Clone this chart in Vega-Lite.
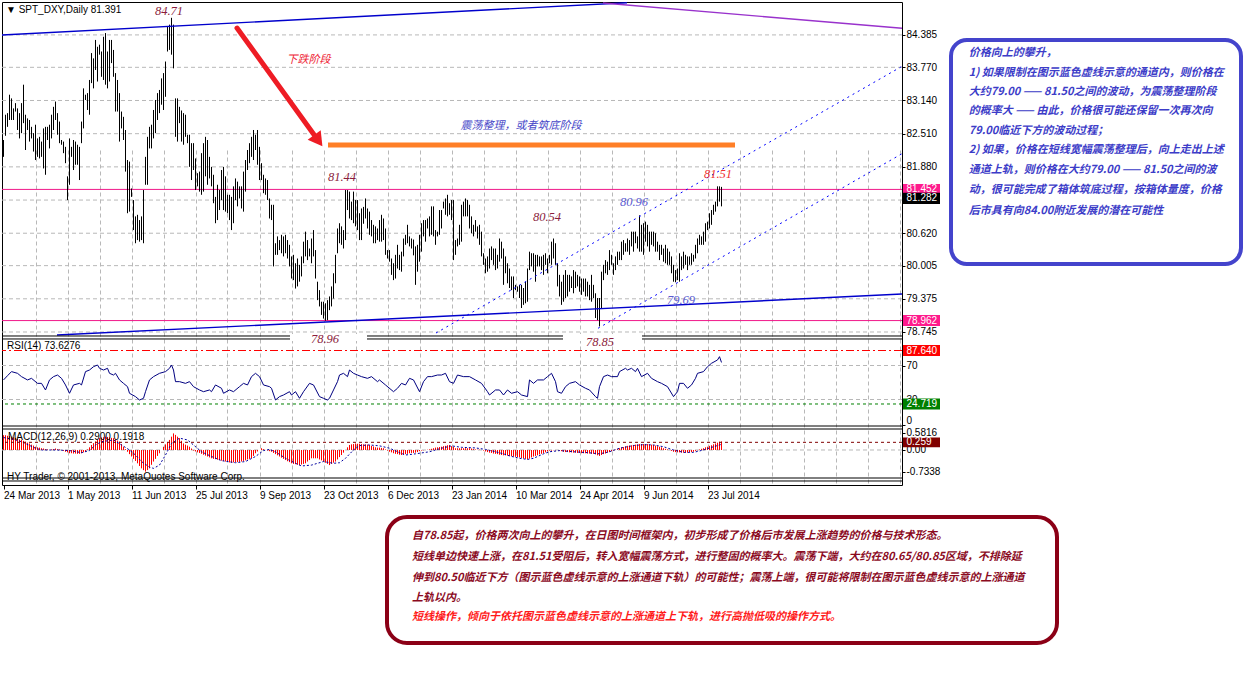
{
"$schema":"https://vega.github.io/schema/vega-lite/v6.json",
"width":900,"height":483,
"autosize":{"type":"none"},
"padding":{"left":2,"top":2,"right":353,"bottom":201},
"background":"#ffffff",
"config":{"view":{"stroke":"#000000","strokeWidth":1},"axis":{"labelFont":"Liberation Sans","labelFontSize":10,"labelColor":"#000000","tickColor":"#000000","title":null,"zindex":0}},
"datasets":{
"bars":[
{"i":0,"h":82.39,"l":82.07,"m":0.5},{"i":1,"h":82.87,"l":82.47,"m":0.5},{"i":2,"h":82.9,"l":82.64,"m":0.48},{"i":3,"h":83.25,"l":82.77,"m":0.47},{"i":4,"h":83.18,"l":82.77,"m":0.45},{"i":5,"h":82.99,"l":82.77,"m":0.43},{"i":6,"h":83.09,"l":82.93,"m":0.41},{"i":7,"h":82.99,"l":82.58,"m":0.38},{"i":8,"h":82.9,"l":82.42,"m":0.36},{"i":9,"h":83.09,"l":82.52,"m":0.34},
{"i":10,"h":83.44,"l":82.71,"m":0.31},{"i":11,"h":82.87,"l":82.2,"m":0.28},{"i":12,"h":82.8,"l":82.58,"m":0.25},{"i":13,"h":82.77,"l":82.36,"m":0.22},{"i":14,"h":82.64,"l":82.42,"m":0.18},{"i":15,"h":82.52,"l":82.17,"m":0.15},{"i":16,"h":82.68,"l":82.01,"m":0.11},{"i":17,"h":82.42,"l":82.07,"m":0.09},{"i":18,"h":82.45,"l":82.04,"m":0.08},{"i":19,"h":82.36,"l":82.07,"m":0.06},
{"i":20,"h":82.61,"l":81.85,"m":0.05},{"i":21,"h":82.64,"l":81.73,"m":0.03},{"i":22,"h":82.64,"l":82.39,"m":0.02},{"i":23,"h":82.68,"l":82.23,"m":0},{"i":24,"h":82.87,"l":82.42,"m":0.02},{"i":25,"h":83.02,"l":82.58,"m":0.03},{"i":26,"h":83.12,"l":82.77,"m":0.05},{"i":27,"h":82.9,"l":82.49,"m":0.03},{"i":28,"h":82.74,"l":82.33,"m":0.02},{"i":29,"h":82.39,"l":82.3,"m":0},
{"i":30,"h":82.36,"l":82.14,"m":-0.03},{"i":31,"h":82.26,"l":81.95,"m":-0.06},{"i":32,"h":81.7,"l":81.25,"m":-0.08},{"i":33,"h":82.42,"l":81.54,"m":-0.11},{"i":34,"h":82.26,"l":82.07,"m":-0.11},{"i":35,"h":82.39,"l":81.82,"m":-0.12},{"i":36,"h":82.36,"l":81.92,"m":-0.12},{"i":37,"h":82.3,"l":81.92,"m":-0.13},{"i":38,"h":82.26,"l":81.63,"m":-0.13},{"i":39,"h":82.74,"l":82.33,"m":-0.11},
{"i":40,"h":83.37,"l":82.61,"m":-0.08},{"i":41,"h":83.25,"l":83.15,"m":-0.06},{"i":42,"h":83.28,"l":82.96,"m":0.02},{"i":43,"h":83.53,"l":82.87,"m":0.09},{"i":44,"h":84.04,"l":83.47,"m":0.17},{"i":45,"h":83.94,"l":83.37,"m":0.23},{"i":46,"h":84.29,"l":83.72,"m":0.29},{"i":47,"h":84.16,"l":83.5,"m":0.34},{"i":48,"h":84.2,"l":84.01,"m":0.4},{"i":49,"h":84.07,"l":83.59,"m":0.42},
{"i":50,"h":84.35,"l":83.53,"m":0.43},{"i":51,"h":84.42,"l":83.44,"m":0.45},{"i":52,"h":84.07,"l":83.37,"m":0.44},{"i":53,"h":84.29,"l":83.5,"m":0.43},{"i":54,"h":84.29,"l":83.85,"m":0.41},{"i":55,"h":84.1,"l":83.59,"m":0.4},{"i":56,"h":83.66,"l":82.93,"m":0.36},{"i":57,"h":83.53,"l":82.93,"m":0.32},{"i":58,"h":83.28,"l":82.36,"m":0.28},{"i":59,"h":82.93,"l":82.61,"m":0.2},
{"i":60,"h":82.83,"l":82.39,"m":0.11},{"i":61,"h":82.58,"l":81.79,"m":0.03},{"i":62,"h":82.01,"l":81.0,"m":-0.06},{"i":63,"h":81.98,"l":81.03,"m":-0.14},{"i":64,"h":81.47,"l":81.31,"m":-0.22},{"i":65,"h":81.25,"l":80.68,"m":-0.3},{"i":66,"h":80.94,"l":80.43,"m":-0.37},{"i":67,"h":80.97,"l":80.49,"m":-0.45},{"i":68,"h":80.87,"l":80.46,"m":-0.54},{"i":69,"h":80.94,"l":80.49,"m":-0.62},
{"i":70,"h":81.44,"l":80.43,"m":-0.68},{"i":71,"h":82.07,"l":81.54,"m":-0.73},{"i":72,"h":82.45,"l":81.54,"m":-0.68},{"i":73,"h":82.64,"l":82.23,"m":-0.62},{"i":74,"h":82.68,"l":82.23,"m":-0.5},{"i":75,"h":82.96,"l":82.42,"m":-0.39},{"i":76,"h":83.15,"l":82.52,"m":-0.3},{"i":77,"h":83.28,"l":82.77,"m":-0.2},{"i":78,"h":83.34,"l":82.9,"m":-0.11},{"i":79,"h":83.56,"l":83.06,"m":0},
{"i":80,"h":83.66,"l":82.96,"m":0.11},{"i":81,"h":83.88,"l":83.21,"m":0.19},{"i":82,"h":84.54,"l":84.07,"m":0.26},{"i":83,"h":84.58,"l":84.1,"m":0.34},{"i":84,"h":84.71,"l":84.01,"m":0.45},{"i":85,"h":84.58,"l":83.75,"m":0.56},{"i":86,"h":83.18,"l":82.45,"m":0.51},{"i":87,"h":83.18,"l":82.36,"m":0.45},{"i":88,"h":83.02,"l":82.71,"m":0.4},{"i":89,"h":82.95,"l":82.36,"m":0.31},
{"i":90,"h":82.9,"l":82.3,"m":0.22},{"i":91,"h":82.87,"l":82.45,"m":0.18},{"i":92,"h":82.49,"l":82.33,"m":0.15},{"i":93,"h":82.49,"l":81.88,"m":0.11},{"i":94,"h":82.33,"l":81.63,"m":0.05},{"i":95,"h":82.33,"l":81.82,"m":-0.02},{"i":96,"h":82.04,"l":81.44,"m":-0.05},{"i":97,"h":81.76,"l":81.51,"m":-0.08},{"i":98,"h":81.79,"l":81.41,"m":-0.1},{"i":99,"h":82.14,"l":81.35,"m":-0.13},
{"i":100,"h":82.33,"l":81.41,"m":-0.16},{"i":101,"h":82.45,"l":81.7,"m":-0.19},{"i":102,"h":82.39,"l":81.54,"m":-0.22},{"i":103,"h":82.07,"l":81.66,"m":-0.25},{"i":104,"h":81.88,"l":81.51,"m":-0.28},{"i":105,"h":81.73,"l":81.19,"m":-0.3},{"i":106,"h":81.31,"l":80.81,"m":-0.31},{"i":107,"h":81.54,"l":80.87,"m":-0.33},{"i":108,"h":81.44,"l":81.06,"m":-0.34},{"i":109,"h":81.82,"l":81.25,"m":-0.36},
{"i":110,"h":81.88,"l":81.06,"m":-0.37},{"i":111,"h":81.7,"l":81.03,"m":-0.39},{"i":112,"h":81.35,"l":81.0,"m":-0.4},{"i":113,"h":81.35,"l":80.87,"m":-0.42},{"i":114,"h":81.31,"l":80.68,"m":-0.43},{"i":115,"h":81.51,"l":80.81,"m":-0.42},{"i":116,"h":81.66,"l":81.25,"m":-0.41},{"i":117,"h":81.6,"l":81.13,"m":-0.41},{"i":118,"h":81.51,"l":81.28,"m":-0.4},{"i":119,"h":81.51,"l":81.09,"m":-0.39},
{"i":120,"h":81.79,"l":81.03,"m":-0.37},{"i":121,"h":82.01,"l":81.41,"m":-0.35},{"i":122,"h":82.2,"l":81.82,"m":-0.32},{"i":123,"h":82.33,"l":81.95,"m":-0.3},{"i":124,"h":82.45,"l":82.07,"m":-0.28},{"i":125,"h":82.58,"l":82.01,"m":-0.2},{"i":126,"h":82.49,"l":82.2,"m":-0.11},{"i":127,"h":82.58,"l":81.92,"m":-0.05},{"i":128,"h":82.26,"l":81.63,"m":0},{"i":129,"h":81.95,"l":81.63,"m":0.06},
{"i":130,"h":81.73,"l":81.38,"m":0.03},{"i":131,"h":81.66,"l":81.35,"m":0},{"i":132,"h":81.63,"l":81.25,"m":-0.02},{"i":133,"h":81.28,"l":80.9,"m":-0.04},{"i":134,"h":81.16,"l":80.87,"m":-0.06},{"i":135,"h":81.16,"l":79.99,"m":-0.1},{"i":136,"h":80.43,"l":80.21,"m":-0.14},{"i":137,"h":80.56,"l":80.21,"m":-0.18},{"i":138,"h":80.49,"l":80.3,"m":-0.22},{"i":139,"h":80.59,"l":80.24,"m":-0.26},
{"i":140,"h":80.56,"l":80.18,"m":-0.3},{"i":141,"h":80.59,"l":80.24,"m":-0.34},{"i":142,"h":80.49,"l":80.14,"m":-0.38},{"i":143,"h":80.4,"l":79.99,"m":-0.41},{"i":144,"h":80.18,"l":79.76,"m":-0.45},{"i":145,"h":80.21,"l":79.73,"m":-0.47},{"i":146,"h":80.05,"l":79.57,"m":-0.48},{"i":147,"h":80.14,"l":79.61,"m":-0.5},{"i":148,"h":80.02,"l":79.7,"m":-0.51},{"i":149,"h":80.18,"l":79.8,"m":-0.49},
{"i":150,"h":80.46,"l":80.05,"m":-0.47},{"i":151,"h":80.65,"l":80.18,"m":-0.45},{"i":152,"h":80.49,"l":80.11,"m":-0.39},{"i":153,"h":80.33,"l":80.18,"m":-0.34},{"i":154,"h":80.52,"l":80.05,"m":-0.28},{"i":155,"h":80.68,"l":80.18,"m":-0.28},{"i":156,"h":80.3,"l":79.76,"m":-0.28},{"i":157,"h":79.7,"l":79.35,"m":-0.28},{"i":158,"h":79.54,"l":79.23,"m":-0.32},{"i":159,"h":79.32,"l":79.07,"m":-0.35},
{"i":160,"h":79.32,"l":79.0,"m":-0.39},{"i":161,"h":79.29,"l":78.96,"m":-0.43},{"i":162,"h":79.35,"l":78.97,"m":-0.47},{"i":163,"h":79.42,"l":79.16,"m":-0.51},{"i":164,"h":79.61,"l":79.23,"m":-0.47},{"i":165,"h":79.86,"l":79.38,"m":-0.43},{"i":166,"h":80.21,"l":79.67,"m":-0.39},{"i":167,"h":80.71,"l":80.24,"m":-0.32},{"i":168,"h":80.81,"l":80.43,"m":-0.24},{"i":169,"h":80.75,"l":80.4,"m":-0.17},
{"i":170,"h":80.68,"l":80.33,"m":-0.09},{"i":171,"h":81.44,"l":80.49,"m":0},{"i":172,"h":81.44,"l":81.06,"m":0.09},{"i":173,"h":81.41,"l":80.9,"m":0.17},{"i":174,"h":81.22,"l":80.87,"m":0.19},{"i":175,"h":81.41,"l":80.81,"m":0.2},{"i":176,"h":81.25,"l":80.75,"m":0.22},{"i":177,"h":81.25,"l":80.68,"m":0.21},{"i":178,"h":81.0,"l":80.49,"m":0.21},{"i":179,"h":81.09,"l":80.49,"m":0.2},
{"i":180,"h":81.12,"l":80.8,"m":0.19},{"i":181,"h":81.28,"l":80.9,"m":0.19},{"i":182,"h":81.09,"l":80.71,"m":0.18},{"i":183,"h":81.03,"l":80.59,"m":0.17},{"i":184,"h":80.87,"l":80.56,"m":0.14},{"i":185,"h":80.78,"l":80.43,"m":0.12},{"i":186,"h":80.75,"l":80.43,"m":0.09},{"i":187,"h":80.71,"l":80.49,"m":0.08},{"i":188,"h":80.87,"l":80.46,"m":0.08},{"i":189,"h":80.97,"l":80.46,"m":0.07},
{"i":190,"h":80.9,"l":80.49,"m":0.06},{"i":191,"h":80.71,"l":80.21,"m":0.02},{"i":192,"h":80.3,"l":80.14,"m":-0.02},{"i":193,"h":80.3,"l":80.08,"m":-0.06},{"i":194,"h":80.14,"l":79.83,"m":-0.08},{"i":195,"h":80.05,"l":79.73,"m":-0.11},{"i":196,"h":80.21,"l":79.76,"m":-0.13},{"i":197,"h":80.4,"l":79.95,"m":-0.14},{"i":198,"h":80.21,"l":79.92,"m":-0.16},{"i":199,"h":80.27,"l":79.89,"m":-0.17},
{"i":200,"h":80.52,"l":80.18,"m":-0.16},{"i":201,"h":80.59,"l":80.4,"m":-0.14},{"i":202,"h":80.78,"l":80.43,"m":-0.13},{"i":203,"h":80.56,"l":80.37,"m":-0.11},{"i":204,"h":80.52,"l":80.33,"m":-0.1},{"i":205,"h":80.5,"l":80.2,"m":-0.1},{"i":206,"h":80.37,"l":79.64,"m":-0.09},{"i":207,"h":80.4,"l":79.89,"m":-0.07},{"i":208,"h":80.59,"l":80.08,"m":-0.04},{"i":209,"h":80.81,"l":80.27,"m":-0.02},
{"i":210,"h":80.87,"l":80.56,"m":-0.01},{"i":211,"h":80.87,"l":80.46,"m":0},{"i":212,"h":80.9,"l":80.71,"m":0.01},{"i":213,"h":80.94,"l":80.56,"m":0.02},{"i":214,"h":81.13,"l":80.59,"m":0.04},{"i":215,"h":81.13,"l":80.56,"m":0.06},{"i":216,"h":80.68,"l":80.4,"m":0.08},{"i":217,"h":80.65,"l":80.56,"m":0.09},{"i":218,"h":81.06,"l":80.59,"m":0.1},{"i":219,"h":81.06,"l":80.71,"m":0.11},
{"i":220,"h":81.22,"l":81.09,"m":0.13},{"i":221,"h":81.28,"l":80.97,"m":0.14},{"i":222,"h":81.35,"l":80.94,"m":0.16},{"i":223,"h":81.19,"l":80.97,"m":0.17},{"i":224,"h":81.25,"l":80.87,"m":0.13},{"i":225,"h":81.25,"l":80.11,"m":0.1},{"i":226,"h":80.49,"l":80.21,"m":0.06},{"i":227,"h":80.52,"l":80.37,"m":0.06},{"i":228,"h":80.78,"l":80.4,"m":0.06},{"i":229,"h":81.16,"l":80.46,"m":0.06},
{"i":230,"h":81.22,"l":80.94,"m":0.06},{"i":231,"h":81.28,"l":80.94,"m":0.06},{"i":232,"h":81.25,"l":80.94,"m":0.06},{"i":233,"h":81.16,"l":80.71,"m":0.06},{"i":234,"h":80.94,"l":80.62,"m":0.05},{"i":235,"h":80.78,"l":80.56,"m":0.03},{"i":236,"h":80.87,"l":80.65,"m":0.02},{"i":237,"h":80.75,"l":80.52,"m":0.01},{"i":238,"h":80.78,"l":80.4,"m":0.01},{"i":239,"h":80.65,"l":80.18,"m":0},
{"i":240,"h":80.24,"l":80.02,"m":-0.02},{"i":241,"h":80.14,"l":79.86,"m":-0.05},{"i":242,"h":80.18,"l":79.89,"m":-0.07},{"i":243,"h":80.33,"l":79.95,"m":-0.09},{"i":244,"h":80.37,"l":80.11,"m":-0.1},{"i":245,"h":80.33,"l":80.02,"m":-0.12},{"i":246,"h":80.33,"l":79.92,"m":-0.13},{"i":247,"h":80.21,"l":79.95,"m":-0.14},{"i":248,"h":80.52,"l":80.08,"m":-0.16},{"i":249,"h":80.46,"l":80.14,"m":-0.17},
{"i":250,"h":80.33,"l":79.64,"m":-0.18},{"i":251,"h":80.18,"l":79.86,"m":-0.18},{"i":252,"h":80.05,"l":79.67,"m":-0.19},{"i":253,"h":79.95,"l":79.58,"m":-0.2},{"i":254,"h":79.8,"l":79.54,"m":-0.21},{"i":255,"h":79.8,"l":79.39,"m":-0.22},{"i":256,"h":79.64,"l":79.54,"m":-0.23},{"i":257,"h":79.61,"l":79.51,"m":-0.24},{"i":258,"h":79.64,"l":79.39,"m":-0.25},{"i":259,"h":79.64,"l":79.2,"m":-0.27},
{"i":260,"h":79.58,"l":79.26,"m":-0.29},{"i":261,"h":79.7,"l":79.29,"m":-0.3},{"i":262,"h":79.95,"l":79.32,"m":-0.32},{"i":263,"h":80.27,"l":79.92,"m":-0.29},{"i":264,"h":80.24,"l":79.99,"m":-0.25},{"i":265,"h":80.24,"l":79.89,"m":-0.22},{"i":266,"h":80.21,"l":79.7,"m":-0.2},{"i":267,"h":80.21,"l":79.99,"m":-0.18},{"i":268,"h":80.18,"l":79.99,"m":-0.15},{"i":269,"h":80.18,"l":79.92,"m":-0.13},
{"i":270,"h":80.21,"l":79.83,"m":-0.11},{"i":271,"h":80.24,"l":80.02,"m":-0.08},{"i":272,"h":80.14,"l":79.86,"m":-0.05},{"i":273,"h":80.21,"l":80.05,"m":-0.02},{"i":274,"h":80.46,"l":80.02,"m":-0.02},{"i":275,"h":80.52,"l":80.14,"m":-0.01},{"i":276,"h":80.43,"l":80.02,"m":-0.01},{"i":277,"h":80.05,"l":79.61,"m":0},{"i":278,"h":79.83,"l":79.42,"m":-0.02},{"i":279,"h":79.7,"l":79.26,"m":-0.04},
{"i":280,"h":79.83,"l":79.32,"m":-0.06},{"i":281,"h":79.92,"l":79.39,"m":-0.07},{"i":282,"h":79.83,"l":79.42,"m":-0.07},{"i":283,"h":79.83,"l":79.51,"m":-0.08},{"i":284,"h":79.8,"l":79.58,"m":-0.08},{"i":285,"h":79.92,"l":79.48,"m":-0.09},{"i":286,"h":79.89,"l":79.58,"m":-0.09},{"i":287,"h":79.83,"l":79.61,"m":-0.1},{"i":288,"h":79.8,"l":79.51,"m":-0.1},{"i":289,"h":79.76,"l":79.45,"m":-0.11},
{"i":290,"h":79.76,"l":79.51,"m":-0.11},{"i":291,"h":79.76,"l":79.42,"m":-0.11},{"i":292,"h":79.7,"l":79.42,"m":-0.12},{"i":293,"h":79.64,"l":79.35,"m":-0.12},{"i":294,"h":79.83,"l":79.32,"m":-0.13},{"i":295,"h":79.64,"l":79.39,"m":-0.13},{"i":296,"h":79.48,"l":79.01,"m":-0.15},{"i":297,"h":79.39,"l":78.97,"m":-0.18},{"i":298,"h":79.39,"l":78.85,"m":-0.2},{"i":299,"h":79.89,"l":79.2,"m":-0.17},
{"i":300,"h":80.02,"l":79.73,"m":-0.14},{"i":301,"h":80.11,"l":79.86,"m":-0.12},{"i":302,"h":80.08,"l":79.83,"m":-0.09},{"i":303,"h":80.3,"l":79.92,"m":-0.07},{"i":304,"h":80.21,"l":80.02,"m":-0.04},{"i":305,"h":80.05,"l":79.83,"m":-0.02},{"i":306,"h":80.18,"l":79.92,"m":0.01},{"i":307,"h":80.27,"l":80.02,"m":0.03},{"i":308,"h":80.27,"l":80.11,"m":0.06},{"i":309,"h":80.46,"l":80.11,"m":0.08},
{"i":310,"h":80.49,"l":80.21,"m":0.1},{"i":311,"h":80.43,"l":80.27,"m":0.12},{"i":312,"h":80.52,"l":80.27,"m":0.14},{"i":313,"h":80.49,"l":80.21,"m":0.15},{"i":314,"h":80.65,"l":80.37,"m":0.16},{"i":315,"h":80.65,"l":80.27,"m":0.17},{"i":316,"h":80.65,"l":80.43,"m":0.18},{"i":317,"h":80.56,"l":80.33,"m":0.19},{"i":318,"h":80.96,"l":80.27,"m":0.2},{"i":319,"h":80.78,"l":80.27,"m":0.2},
{"i":320,"h":80.81,"l":80.21,"m":0.2},{"i":321,"h":80.84,"l":80.46,"m":0.2},{"i":322,"h":80.78,"l":80.37,"m":0.2},{"i":323,"h":80.65,"l":80.27,"m":0.19},{"i":324,"h":80.65,"l":80.4,"m":0.18},{"i":325,"h":80.65,"l":80.37,"m":0.17},{"i":326,"h":80.62,"l":80.27,"m":0.15},{"i":327,"h":80.46,"l":80.27,"m":0.13},{"i":328,"h":80.4,"l":80.11,"m":0.11},{"i":329,"h":80.4,"l":80.21,"m":0.09},
{"i":330,"h":80.33,"l":80.08,"m":0.06},{"i":331,"h":80.4,"l":80.05,"m":0.04},{"i":332,"h":80.33,"l":80.02,"m":0.02},{"i":333,"h":80.27,"l":80.02,"m":0},{"i":334,"h":80.18,"l":79.86,"m":-0.03},{"i":335,"h":80.02,"l":79.7,"m":-0.06},{"i":336,"h":79.92,"l":79.69,"m":-0.07},{"i":337,"h":79.95,"l":79.73,"m":-0.08},{"i":338,"h":80.24,"l":79.7,"m":-0.08},{"i":339,"h":80.18,"l":79.92,"m":-0.09},
{"i":340,"h":80.27,"l":79.95,"m":-0.09},{"i":341,"h":80.21,"l":80.02,"m":-0.09},{"i":342,"h":80.18,"l":79.92,"m":-0.09},{"i":343,"h":80.18,"l":80.02,"m":-0.08},{"i":344,"h":80.24,"l":80.02,"m":-0.07},{"i":345,"h":80.21,"l":80.08,"m":-0.06},{"i":346,"h":80.4,"l":80.14,"m":-0.03},{"i":347,"h":80.52,"l":80.24,"m":-0.01},{"i":348,"h":80.59,"l":80.4,"m":0.02},{"i":349,"h":80.56,"l":80.4,"m":0.04},
{"i":350,"h":80.65,"l":80.4,"m":0.06},{"i":351,"h":80.81,"l":80.46,"m":0.09},{"i":352,"h":80.84,"l":80.68,"m":0.11},{"i":353,"h":81.0,"l":80.71,"m":0.14},{"i":354,"h":81.06,"l":80.78,"m":0.16},{"i":355,"h":81.16,"l":80.97,"m":0.19},{"i":356,"h":81.22,"l":81.03,"m":0.22},{"i":357,"h":81.51,"l":81.13,"m":0.25},{"i":358,"h":81.51,"l":81.22,"m":0.28},{"i":359,"h":81.5,"l":81.13,"m":0.29}
],
"rsi":[
{"i":0,"r":53},{"i":2,"r":58},{"i":4,"r":62.8},{"i":7,"r":60.8},{"i":9,"r":56.9},{"i":12,"r":53},{"i":14,"r":54.9},{"i":17,"r":49},{"i":19,"r":49},{"i":21,"r":41.2},{"i":23,"r":53},{"i":25,"r":56.9},{"i":27,"r":58.8},{"i":29,"r":54.9},{"i":31,"r":47.1},{"i":33,"r":37.3},{"i":35,"r":47.1},{"i":38,"r":49},{"i":39,"r":47.1},{"i":41,"r":62.8},{"i":43,"r":64.7},{"i":45,"r":68.6},{"i":47,"r":70.6},{"i":48,"r":66.7},{"i":50,"r":64.7},{"i":52,"r":66.7},{"i":53,"r":60.8},{"i":55,"r":58.8},{"i":56,"r":60.8},{"i":58,"r":53},{"i":60,"r":49},{"i":62,"r":45.1},{"i":63,"r":37.3},{"i":66,"r":33.4},{"i":68,"r":29.4},{"i":70,"r":31.4},{"i":71,"r":39.2},{"i":73,"r":53},{"i":75,"r":56.9},{"i":78,"r":60.8},{"i":81,"r":62.8},{"i":83,"r":66.7},{"i":84,"r":70.6},{"i":85,"r":64.7},{"i":86,"r":51},{"i":88,"r":51},{"i":91,"r":49},{"i":93,"r":51},{"i":95,"r":45.1},{"i":98,"r":41.2},{"i":100,"r":39.2},{"i":103,"r":41.2},{"i":104,"r":39.2},{"i":106,"r":47.1},{"i":109,"r":43.2},{"i":110,"r":37.3},{"i":113,"r":41.2},{"i":115,"r":39.2},{"i":118,"r":45.1},{"i":120,"r":49},{"i":122,"r":47.1},{"i":124,"r":56.9},{"i":126,"r":60.8},{"i":128,"r":56.9},{"i":130,"r":47.1},{"i":133,"r":45.1},{"i":134,"r":43.2},{"i":136,"r":29.4},{"i":138,"r":33.4},{"i":140,"r":35.3},{"i":143,"r":39.2},{"i":144,"r":35.3},{"i":146,"r":39.2},{"i":148,"r":31.4},{"i":150,"r":39.2},{"i":153,"r":49},{"i":155,"r":47.1},{"i":158,"r":33.4},{"i":160,"r":31.4},{"i":162,"r":29.4},{"i":163,"r":31.4},{"i":165,"r":41.2},{"i":167,"r":51},{"i":168,"r":58.8},{"i":170,"r":60.8},{"i":172,"r":56.9},{"i":173,"r":64.7},{"i":175,"r":60.8},{"i":177,"r":58.8},{"i":179,"r":56.9},{"i":182,"r":54.9},{"i":184,"r":56.9},{"i":187,"r":51},{"i":188,"r":53},{"i":191,"r":47.1},{"i":195,"r":39.2},{"i":197,"r":43.2},{"i":199,"r":49},{"i":201,"r":47.1},{"i":203,"r":54.9},{"i":205,"r":53},{"i":208,"r":39.2},{"i":210,"r":51},{"i":212,"r":56.9},{"i":214,"r":56.9},{"i":217,"r":58.8},{"i":219,"r":58.8},{"i":221,"r":60.8},{"i":223,"r":51},{"i":225,"r":49},{"i":227,"r":58.8},{"i":230,"r":56.9},{"i":233,"r":56.9},{"i":236,"r":53},{"i":239,"r":49},{"i":242,"r":39.2},{"i":243,"r":35.3},{"i":246,"r":41.2},{"i":248,"r":41.2},{"i":250,"r":35.3},{"i":252,"r":41.2},{"i":254,"r":37.3},{"i":257,"r":39.2},{"i":259,"r":35.3},{"i":262,"r":33.4},{"i":263,"r":53},{"i":265,"r":49},{"i":267,"r":53},{"i":270,"r":53},{"i":272,"r":56.9},{"i":274,"r":60.8},{"i":276,"r":51},{"i":277,"r":39.2},{"i":279,"r":37.3},{"i":281,"r":45.1},{"i":283,"r":49},{"i":286,"r":51},{"i":288,"r":47.1},{"i":291,"r":43.2},{"i":293,"r":41.2},{"i":296,"r":33.4},{"i":297,"r":31.4},{"i":298,"r":45.1},{"i":300,"r":56.9},{"i":302,"r":58.8},{"i":304,"r":56.9},{"i":307,"r":56.9},{"i":308,"r":62.8},{"i":311,"r":66.7},{"i":312,"r":64.7},{"i":314,"r":66.7},{"i":316,"r":62.8},{"i":317,"r":66.7},{"i":319,"r":56.9},{"i":322,"r":60.8},{"i":324,"r":54.9},{"i":327,"r":51},{"i":329,"r":49},{"i":332,"r":45.1},{"i":333,"r":41.2},{"i":335,"r":33.4},{"i":337,"r":39.2},{"i":338,"r":49},{"i":340,"r":49},{"i":342,"r":43.2},{"i":344,"r":47.1},{"i":346,"r":54.9},{"i":347,"r":60.8},{"i":350,"r":62.8},{"i":352,"r":68.6},{"i":354,"r":72.6},{"i":357,"r":76.5},{"i":358,"r":80.4},{"i":359,"r":73.6}
],
"sig":[
{"i":0,"s":0.42},{"i":5,"s":0.36},{"i":9,"s":0.28},{"i":16,"s":0.06},{"i":19,"s":0.0},{"i":26,"s":0.0},{"i":33,"s":-0.02},{"i":39,"s":-0.09},{"i":43,"s":-0.02},{"i":46,"s":0.17},{"i":49,"s":0.28},{"i":55,"s":0.34},{"i":59,"s":0.17},{"i":63,"s":0.0},{"i":66,"s":-0.17},{"i":69,"s":-0.39},{"i":73,"s":-0.58},{"i":75,"s":-0.62},{"i":78,"s":-0.51},{"i":81,"s":-0.17},{"i":84,"s":0.22},{"i":88,"s":0.4},{"i":92,"s":0.34},{"i":95,"s":0.17},{"i":99,"s":-0.06},{"i":104,"s":-0.22},{"i":109,"s":-0.36},{"i":116,"s":-0.43},{"i":121,"s":-0.39},{"i":126,"s":-0.22},{"i":130,"s":-0.02},{"i":133,"s":0.02},{"i":136,"s":-0.06},{"i":141,"s":-0.28},{"i":146,"s":-0.45},{"i":149,"s":-0.54},{"i":154,"s":-0.51},{"i":160,"s":-0.39},{"i":165,"s":-0.45},{"i":168,"s":-0.43},{"i":171,"s":-0.28},{"i":175,"s":0.0},{"i":178,"s":0.15},{"i":183,"s":0.17},{"i":188,"s":0.14},{"i":193,"s":0.06},{"i":198,"s":-0.09},{"i":201,"s":-0.17},{"i":206,"s":-0.13},{"i":213,"s":-0.06},{"i":219,"s":0.06},{"i":224,"s":0.14},{"i":229,"s":0.09},{"i":236,"s":0.07},{"i":241,"s":0.02},{"i":246,"s":-0.06},{"i":250,"s":-0.13},{"i":253,"s":-0.2},{"i":258,"s":-0.28},{"i":262,"s":-0.32},{"i":265,"s":-0.28},{"i":270,"s":-0.13},{"i":273,"s":-0.06},{"i":278,"s":-0.02},{"i":285,"s":-0.06},{"i":292,"s":-0.09},{"i":298,"s":-0.13},{"i":303,"s":-0.06},{"i":308,"s":0.06},{"i":315,"s":0.15},{"i":320,"s":0.18},{"i":325,"s":0.17},{"i":330,"s":0.11},{"i":335,"s":0.0},{"i":340,"s":-0.08},{"i":345,"s":-0.08},{"i":350,"s":0.0},{"i":355,"s":0.11},{"i":359,"s":0.19}
]
},
"resolve":{"scale":{"y":"independent"},"axis":{"x":"independent","y":"independent"}},
"layer":[
{"data":{"values":[{"g":84.385},{"g":83.77},{"g":83.14},{"g":82.51},{"g":81.88},{"g":81.25},{"g":80.62},{"g":80.005},{"g":79.375},{"g":78.745}]},
 "mark":{"type":"rule","color":"#b8b8b8","strokeDash":[4,3],"strokeWidth":1},
 "encoding":{"y":{"field":"g","type":"quantitative","scale":{"domain":[78.65,85.01],"range":[335,0],"nice":false,"zero":false},"axis":null}}},
{"data":{"values":[{"g":70},{"g":30}]},
 "mark":{"type":"rule","color":"#b8b8b8","strokeDash":[4,3],"strokeWidth":1},
 "encoding":{"y":{"field":"g","type":"quantitative","scale":{"domain":[0,100],"range":[423,338],"nice":false,"zero":false},"axis":null}}},
{"data":{"values":[{"g":0}]},
 "mark":{"type":"rule","color":"#b8b8b8","strokeDash":[4,3],"strokeWidth":1},
 "encoding":{"y":{"field":"g","type":"quantitative","scale":{"domain":[-0.946,0.709],"range":[476,427],"nice":false,"zero":false},"axis":null}}},
{"data":{"values":[{"g":81.452},{"g":78.962}]},
 "mark":{"type":"rule","color":"#f0198a","strokeWidth":1},
 "encoding":{"y":{"field":"g","type":"quantitative","scale":{"domain":[78.65,85.01],"range":[335,0],"nice":false,"zero":false},"axis":null}}},
{"data":{"name":"bars"},
 "mark":{"type":"rule","color":"#000000","strokeWidth":1},
 "encoding":{
  "x":{"field":"i","type":"quantitative","scale":{"domain":[-0.75,449.25],"range":[0,900],"nice":false,"zero":false},
   "axis":{"orient":"bottom","values":[16,32,48,64,80,96,112,128,144,160,176,192,208,224,240,256,272,288,304,320,336,352,368,384,400,416,432,448],"grid":true,"gridColor":"#b8b8b8","gridDash":[4,3],"labels":false,"ticks":false,"domain":false}},
  "y":{"field":"h","type":"quantitative","scale":{"domain":[78.65,85.01],"range":[335,0],"nice":false,"zero":false},
   "axis":{"orient":"right","values":[84.385,83.77,83.14,82.51,81.88,80.62,80.005,79.375,78.745],"format":".3f","grid":false,"domain":false,"tickSize":3,"labelPadding":1,"labelOverlap":false,"labelFlush":false}},
  "y2":{"field":"l"}}},
{"data":{"values":[{"k":"u","i":-0.75,"p":84.383},{"k":"u","i":311.75,"p":84.997},{"k":"w","i":26.75,"p":78.688},{"k":"w","i":449.25,"p":79.466}]},
 "mark":{"type":"line","color":"#0000cc","strokeWidth":1.4},
 "encoding":{"x":{"field":"i","type":"quantitative","scale":{"domain":[-0.75,449.25],"range":[0,900],"nice":false,"zero":false},"axis":null},
  "y":{"field":"p","type":"quantitative","scale":{"domain":[78.65,85.01],"range":[335,0],"nice":false,"zero":false},"axis":null},"detail":{"field":"k"}}},
{"data":{"values":[{"i":299.75,"p":84.99},{"i":449.25,"p":84.511}]},
 "mark":{"type":"line","color":"#9932cc","strokeWidth":1.4},
 "encoding":{"x":{"field":"i","type":"quantitative","scale":{"domain":[-0.75,449.25],"range":[0,900],"nice":false,"zero":false},"axis":null},
  "y":{"field":"p","type":"quantitative","scale":{"domain":[78.65,85.01],"range":[335,0],"nice":false,"zero":false},"axis":null}}},
{"data":{"values":[{"k":"a","i":216.25,"p":78.726},{"k":"a","i":449.25,"p":83.789},{"k":"b","i":297.25,"p":78.815},{"k":"b","i":449.25,"p":82.13}]},
 "mark":{"type":"line","color":"#0000ff","strokeWidth":1,"strokeDash":[2,4]},
 "encoding":{"x":{"field":"i","type":"quantitative","scale":{"domain":[-0.75,449.25],"range":[0,900],"nice":false,"zero":false},"axis":null},
  "y":{"field":"p","type":"quantitative","scale":{"domain":[78.65,85.01],"range":[335,0],"nice":false,"zero":false},"axis":null},"detail":{"field":"k"}}},
{"data":{"values":[{"g":87.64}]},
 "mark":{"type":"rule","color":"#ff0000","strokeWidth":1,"strokeDash":[8,3,2,3]},
 "encoding":{"y":{"field":"g","type":"quantitative","scale":{"domain":[0,100],"range":[423,338],"nice":false,"zero":false},"axis":null}}},
{"data":{"values":[{"g":24.719}]},
 "mark":{"type":"rule","color":"#008000","strokeWidth":1,"strokeDash":[3,3]},
 "encoding":{"y":{"field":"g","type":"quantitative","scale":{"domain":[0,100],"range":[423,338],"nice":false,"zero":false},"axis":null}}},
{"data":{"name":"rsi"},
 "mark":{"type":"line","color":"#000080","strokeWidth":1},
 "encoding":{
  "x":{"field":"i","type":"quantitative","scale":{"domain":[-0.75,449.25],"range":[0,900],"nice":false,"zero":false},
   "axis":{"orient":"bottom","values":[0,32,64,96,128,160,192,224,256,288,320,352],"labelExpr":"['24 Mar 2013','1 May 2013','11 Jun 2013','25 Jul 2013','9 Sep 2013','23 Oct 2013','6 Dec 2013','23 Jan 2014','10 Mar 2014','24 Apr 2014','9 Jun 2014','23 Jul 2014'][round(datum.value/32)]","labelAlign":"left","labelBaseline":"top","tickSize":4,"labelPadding":1,"grid":false,"domain":false,"labelOverlap":false,"labelFlush":false}},
  "y":{"field":"r","type":"quantitative","scale":{"domain":[0,100],"range":[423,338],"nice":false,"zero":false},
   "axis":{"orient":"right","values":[70,30,0],"grid":false,"domain":false,"tickSize":3,"labelPadding":1,"labelOverlap":false,"labelFlush":false,"labelBaseline":{"condition":{"test":"datum.value == 0","value":"bottom"},"value":"middle"}}}}},
{"data":{"name":"bars"},
 "mark":{"type":"rule","color":"#ff0000","strokeWidth":1},
 "encoding":{
  "x":{"field":"i","type":"quantitative","scale":{"domain":[-0.75,449.25],"range":[0,900],"nice":false,"zero":false},"axis":null},
  "y":{"field":"m","type":"quantitative","scale":{"domain":[-0.946,0.709],"range":[476,427],"nice":false,"zero":false},
   "axis":{"orient":"right","values":[0.5816,0,-0.7338],"labelExpr":"datum.value == 0 ? '0.00' : (datum.value < 0 ? '-' : '') + format(abs(datum.value), '.4f')","grid":false,"domain":false,"tickSize":3,"labelPadding":1,"labelOverlap":false,"labelFlush":false}},
  "y2":{"datum":0}}},
{"data":{"name":"sig"},
 "mark":{"type":"line","color":"#0000a0","strokeWidth":1,"strokeDash":[2,2]},
 "encoding":{"x":{"field":"i","type":"quantitative","scale":{"domain":[-0.75,449.25],"range":[0,900],"nice":false,"zero":false},"axis":null},
  "y":{"field":"s","type":"quantitative","scale":{"domain":[-0.946,0.709],"range":[476,427],"nice":false,"zero":false},"axis":null}}},
{"data":{"values":[{"g":0.259}]},
 "mark":{"type":"rule","color":"#800000","strokeWidth":1,"strokeDash":[3,3]},
 "encoding":{"y":{"field":"g","type":"quantitative","scale":{"domain":[-0.946,0.709],"range":[476,427],"nice":false,"zero":false},"axis":null}}},
{"data":{"values":[{"g":78.669}]},
 "mark":{"type":"rule","color":"#000000","strokeWidth":1},
 "encoding":{"y":{"field":"g","type":"quantitative","scale":{"domain":[78.65,85.01],"range":[335,0],"nice":false,"zero":false},"axis":null}}},
{"data":{"values":[{"g":101.2},{"g":-1.18}]},
 "mark":{"type":"rule","color":"#000000","strokeWidth":1},
 "encoding":{"y":{"field":"g","type":"quantitative","scale":{"domain":[0,100],"range":[423,338],"nice":false,"zero":false},"axis":null}}},
{"data":{"values":[{"g":0.709},{"g":-0.946},{"g":-1.047}]},
 "mark":{"type":"rule","color":"#000000","strokeWidth":1},
 "encoding":{"y":{"field":"g","type":"quantitative","scale":{"domain":[-0.946,0.709],"range":[476,427],"nice":false,"zero":false},"axis":null}}},
{"data":{"values":[{"i":143.25,"i2":181.75,"p":78.707,"p2":78.574},{"i":279.75,"i2":319.25,"p":78.707,"p2":78.574}]},
 "mark":{"type":"rect","color":"#ffffff"},
 "encoding":{"x":{"field":"i","type":"quantitative","scale":{"domain":[-0.75,449.25],"range":[0,900],"nice":false,"zero":false},"axis":null},"x2":{"field":"i2"},
  "y":{"field":"p","type":"quantitative","scale":{"domain":[78.65,85.01],"range":[335,0],"nice":false,"zero":false},"axis":null},"y2":{"field":"p2"}}},
{"data":{"values":[{"i":82.75,"p":84.839,"t":"84.71"},{"i":169.25,"p":81.687,"t":"81.44"},{"i":160.75,"p":78.612,"t":"78.96"},{"i":271.75,"p":80.928,"t":"80.54"},{"i":298.25,"p":78.555,"t":"78.85"}]},
 "mark":{"type":"text","font":"Liberation Serif","fontStyle":"italic","fontSize":12.5,"color":"#8b1c3c","align":"center","baseline":"middle"},
 "encoding":{"x":{"field":"i","type":"quantitative","scale":{"domain":[-0.75,449.25],"range":[0,900],"nice":false,"zero":false},"axis":null},
  "y":{"field":"p","type":"quantitative","scale":{"domain":[78.65,85.01],"range":[335,0],"nice":false,"zero":false},"axis":null},"text":{"field":"t"}}},
{"data":{"values":[{"i":315.25,"p":81.213,"t":"80.96"},{"i":338.75,"p":79.352,"t":"79.69"}]},
 "mark":{"type":"text","font":"Liberation Serif","fontStyle":"italic","fontSize":12.5,"color":"#5a5ad0","align":"center","baseline":"middle"},
 "encoding":{"x":{"field":"i","type":"quantitative","scale":{"domain":[-0.75,449.25],"range":[0,900],"nice":false,"zero":false},"axis":null},
  "y":{"field":"p","type":"quantitative","scale":{"domain":[78.65,85.01],"range":[335,0],"nice":false,"zero":false},"axis":null},"text":{"field":"t"}}},
{"data":{"values":[{"i":357.25,"p":81.744,"t":"81.51"}]},
 "mark":{"type":"text","font":"Liberation Serif","fontStyle":"italic","fontSize":12.5,"color":"#f03030","align":"center","baseline":"middle"},
 "encoding":{"x":{"field":"i","type":"quantitative","scale":{"domain":[-0.75,449.25],"range":[0,900],"nice":false,"zero":false},"axis":null},
  "y":{"field":"p","type":"quantitative","scale":{"domain":[78.65,85.01],"range":[335,0],"nice":false,"zero":false},"axis":null},"text":{"field":"t"}}},
{"data":{"values":[{"i":152.5,"p":83.909,"t":"下跌阶段"}]},
 "mark":{"type":"text","font":"Noto Sans CJK SC","fontStyle":"italic","fontSize":11,"color":"#ee2233","align":"center","baseline":"middle"},
 "encoding":{"x":{"field":"i","type":"quantitative","scale":{"domain":[-0.75,449.25],"range":[0,900],"nice":false,"zero":false},"axis":null},
  "y":{"field":"p","type":"quantitative","scale":{"domain":[78.65,85.01],"range":[335,0],"nice":false,"zero":false},"axis":null},"text":{"field":"t"}}},
{"data":{"values":[{"i":258.75,"p":82.656,"t":"震荡整理，或者筑底阶段"}]},
 "mark":{"type":"text","font":"Noto Sans CJK SC","fontStyle":"italic","fontSize":11,"color":"#4646c8","align":"center","baseline":"middle"},
 "encoding":{"x":{"field":"i","type":"quantitative","scale":{"domain":[-0.75,449.25],"range":[0,900],"nice":false,"zero":false},"axis":null},
  "y":{"field":"p","type":"quantitative","scale":{"domain":[78.65,85.01],"range":[335,0],"nice":false,"zero":false},"axis":null},"text":{"field":"t"}}},
{"data":{"values":[{"i":116.75,"p":84.516},{"i":157.0,"p":82.4}]},
 "mark":{"type":"line","color":"#ee1c24","strokeWidth":5,"strokeCap":"round"},
 "encoding":{"x":{"field":"i","type":"quantitative","scale":{"domain":[-0.75,449.25],"range":[0,900],"nice":false,"zero":false},"axis":null},
  "y":{"field":"p","type":"quantitative","scale":{"domain":[78.65,85.01],"range":[335,0],"nice":false,"zero":false},"axis":null}}},
{"data":{"values":[{"i":157.4,"p":82.378}]},
 "mark":{"type":"point","shape":"triangle-up","angle":144,"filled":true,"color":"#ee1c24","size":260,"opacity":1},
 "encoding":{"x":{"field":"i","type":"quantitative","scale":{"domain":[-0.75,449.25],"range":[0,900],"nice":false,"zero":false},"axis":null},
  "y":{"field":"p","type":"quantitative","scale":{"domain":[78.65,85.01],"range":[335,0],"nice":false,"zero":false},"axis":null}}},
{"data":{"values":[{"i":162.25,"p":82.295},{"i":365.75,"p":82.295}]},
 "mark":{"type":"line","color":"#ff7f27","strokeWidth":5},
 "encoding":{"x":{"field":"i","type":"quantitative","scale":{"domain":[-0.75,449.25],"range":[0,900],"nice":false,"zero":false},"axis":null},
  "y":{"field":"p","type":"quantitative","scale":{"domain":[78.65,85.01],"range":[335,0],"nice":false,"zero":false},"axis":null}}},
{"data":{"values":[{"i":449.75,"i2":468.25,"p":81.557,"p2":81.347},{"i":449.75,"i2":468.25,"p":79.067,"p2":78.857}]},
 "mark":{"type":"rect","color":"#ff1a8c"},
 "encoding":{"x":{"field":"i","type":"quantitative","scale":{"domain":[-0.75,449.25],"range":[0,900],"nice":false,"zero":false},"axis":null},"x2":{"field":"i2"},
  "y":{"field":"p","type":"quantitative","scale":{"domain":[78.65,85.01],"range":[335,0],"nice":false,"zero":false},"axis":null},"y2":{"field":"p2"}}},
{"data":{"values":[{"i":449.75,"i2":468.25,"p":81.387,"p2":81.177}]},
 "mark":{"type":"rect","color":"#000000"},
 "encoding":{"x":{"field":"i","type":"quantitative","scale":{"domain":[-0.75,449.25],"range":[0,900],"nice":false,"zero":false},"axis":null},"x2":{"field":"i2"},
  "y":{"field":"p","type":"quantitative","scale":{"domain":[78.65,85.01],"range":[335,0],"nice":false,"zero":false},"axis":null},"y2":{"field":"p2"}}},
{"data":{"values":[{"i":451.5,"p":81.452,"t":"81.452"},{"i":451.5,"p":81.282,"t":"81.282"},{"i":451.5,"p":78.962,"t":"78.962"}]},
 "mark":{"type":"text","font":"Liberation Sans","fontSize":10,"color":"#ffffff","align":"left","baseline":"middle"},
 "encoding":{"x":{"field":"i","type":"quantitative","scale":{"domain":[-0.75,449.25],"range":[0,900],"nice":false,"zero":false},"axis":null},
  "y":{"field":"p","type":"quantitative","scale":{"domain":[78.65,85.01],"range":[335,0],"nice":false,"zero":false},"axis":null},"text":{"field":"t"}}},
{"data":{"values":[{"i":449.75,"i2":468.25,"p":94.1,"p2":81.2}]},
 "mark":{"type":"rect","color":"#ff0000"},
 "encoding":{"x":{"field":"i","type":"quantitative","scale":{"domain":[-0.75,449.25],"range":[0,900],"nice":false,"zero":false},"axis":null},"x2":{"field":"i2"},
  "y":{"field":"p","type":"quantitative","scale":{"domain":[0,100],"range":[423,338],"nice":false,"zero":false},"axis":null},"y2":{"field":"p2"}}},
{"data":{"values":[{"i":449.75,"i2":468.25,"p":31.19,"p2":18.25}]},
 "mark":{"type":"rect","color":"#008000"},
 "encoding":{"x":{"field":"i","type":"quantitative","scale":{"domain":[-0.75,449.25],"range":[0,900],"nice":false,"zero":false},"axis":null},"x2":{"field":"i2"},
  "y":{"field":"p","type":"quantitative","scale":{"domain":[0,100],"range":[423,338],"nice":false,"zero":false},"axis":null},"y2":{"field":"p2"}}},
{"data":{"values":[{"i":451.5,"p":87.64,"t":"87.640"},{"i":451.5,"p":24.719,"t":"24.719"}]},
 "mark":{"type":"text","font":"Liberation Sans","fontSize":10,"color":"#ffffff","align":"left","baseline":"middle"},
 "encoding":{"x":{"field":"i","type":"quantitative","scale":{"domain":[-0.75,449.25],"range":[0,900],"nice":false,"zero":false},"axis":null},
  "y":{"field":"p","type":"quantitative","scale":{"domain":[0,100],"range":[423,338],"nice":false,"zero":false},"axis":null},"text":{"field":"t"}}},
{"data":{"values":[{"i":449.75,"i2":468.25,"p":0.425,"p2":0.093}]},
 "mark":{"type":"rect","color":"#800000"},
 "encoding":{"x":{"field":"i","type":"quantitative","scale":{"domain":[-0.75,449.25],"range":[0,900],"nice":false,"zero":false},"axis":null},"x2":{"field":"i2"},
  "y":{"field":"p","type":"quantitative","scale":{"domain":[-0.946,0.709],"range":[476,427],"nice":false,"zero":false},"axis":null},"y2":{"field":"p2"}}},
{"data":{"values":[{"i":451.5,"p":0.27,"t":"0.259"},{"i":2.25,"p":0.439,"t":"MACD(12,26,9) 0.2900 0.1918"},{"i":1.75,"p":-0.912,"t":"HY Trader, © 2001-2013, MetaQuotes Software Corp."}]},
 "mark":{"type":"text","font":"Liberation Sans","fontSize":10,"color":"#000000","align":"left","baseline":"middle"},
 "encoding":{"x":{"field":"i","type":"quantitative","scale":{"domain":[-0.75,449.25],"range":[0,900],"nice":false,"zero":false},"axis":null},
  "y":{"field":"p","type":"quantitative","scale":{"domain":[-0.946,0.709],"range":[476,427],"nice":false,"zero":false},"axis":null},"text":{"field":"t"},
  "color":{"condition":{"test":"datum.t == '0.259'","value":"#ffffff"},"value":"#000000"}}},
{"data":{"values":[{"i":1.75,"p":92.9,"t":"RSI(14) 73.6276"}]},
 "mark":{"type":"text","font":"Liberation Sans","fontSize":10,"color":"#000000","align":"left","baseline":"middle"},
 "encoding":{"x":{"field":"i","type":"quantitative","scale":{"domain":[-0.75,449.25],"range":[0,900],"nice":false,"zero":false},"axis":null},
  "y":{"field":"p","type":"quantitative","scale":{"domain":[0,100],"range":[423,338],"nice":false,"zero":false},"axis":null},"text":{"field":"t"}}},
{"data":{"values":[{"i":1.25,"p":84.858,"t":"▼ SPT_DXY,Daily  81.391"}]},
 "mark":{"type":"text","font":"Liberation Sans","fontSize":10,"color":"#000000","align":"left","baseline":"middle"},
 "encoding":{"x":{"field":"i","type":"quantitative","scale":{"domain":[-0.75,449.25],"range":[0,900],"nice":false,"zero":false},"axis":null},
  "y":{"field":"p","type":"quantitative","scale":{"domain":[78.65,85.01],"range":[335,0],"nice":false,"zero":false},"axis":null},"text":{"field":"t"}}},
{"data":{"values":[{"i":473.75,"i2":618.75,"p":84.289,"p2":80.036}]},
 "mark":{"type":"rect","fill":"#ffffff","stroke":"#4444cc","strokeWidth":4,"cornerRadius":16},
 "encoding":{"x":{"field":"i","type":"quantitative","scale":{"domain":[-0.75,449.25],"range":[0,900],"nice":false,"zero":false},"axis":null},"x2":{"field":"i2"},
  "y":{"field":"p","type":"quantitative","scale":{"domain":[78.65,85.01],"range":[335,0],"nice":false,"zero":false},"axis":null},"y2":{"field":"p2"}}},
{"data":{"values":[{"i":191.75,"i2":526.75,"p":75.232,"p2":72.84}]},
 "mark":{"type":"rect","fill":"#ffffff","stroke":"#8b0016","strokeWidth":4,"cornerRadius":20},
 "encoding":{"x":{"field":"i","type":"quantitative","scale":{"domain":[-0.75,449.25],"range":[0,900],"nice":false,"zero":false},"axis":null},"x2":{"field":"i2"},
  "y":{"field":"p","type":"quantitative","scale":{"domain":[78.65,85.01],"range":[335,0],"nice":false,"zero":false},"axis":null},"y2":{"field":"p2"}}},
{"data":{"values":[
 {"i":482.6,"p":84.036,"t":"价格向上的攀升，"},
 {"i":482.6,"p":83.668,"t":"1) 如果限制在图示蓝色虚线示意的通道内，则价格在"},
 {"i":482.6,"p":83.307,"t":"大约79.00 —— 81.50之间的波动，为震荡整理阶段"},
 {"i":482.6,"p":82.941,"t":"的概率大 —— 由此，价格很可能还保留一次再次向"},
 {"i":482.6,"p":82.567,"t":"79.00临近下方的波动过程；"},
 {"i":482.6,"p":82.2,"t":"2) 如果，价格在短线宽幅震荡整理后，向上走出上述"},
 {"i":482.6,"p":81.82,"t":"通道上轨，则价格在大约79.00 —— 81.50之间的波"},
 {"i":482.6,"p":81.441,"t":"动，很可能完成了箱体筑底过程，按箱体量度，价格"},
 {"i":482.6,"p":81.048,"t":"后市具有向84.00附近发展的潜在可能性"}]},
 "mark":{"type":"text","font":"Noto Sans CJK SC","fontStyle":"italic","fontWeight":"bold","fontSize":11,"color":"#3c3cc8","align":"left","baseline":"middle"},
 "encoding":{"x":{"field":"i","type":"quantitative","scale":{"domain":[-0.75,449.25],"range":[0,900],"nice":false,"zero":false},"axis":null},
  "y":{"field":"p","type":"quantitative","scale":{"domain":[78.65,85.01],"range":[335,0],"nice":false,"zero":false},"axis":null},"text":{"field":"t"}}},
{"data":{"values":[
 {"i":204.25,"p":74.871,"t":"自78.85起，价格两次向上的攀升，在日图时间框架内，初步形成了价格后市发展上涨趋势的价格与技术形态。"},
 {"i":204.25,"p":74.472,"t":"短线单边快速上涨，在81.51受阻后，转入宽幅震荡方式，进行整固的概率大。震荡下端，大约在80.65/80.85区域，不排除延"},
 {"i":204.25,"p":74.074,"t":"伸到80.50临近下方（图示蓝色虚线示意的上涨通道下轨）的可能性；震荡上端，很可能将限制在图示蓝色虚线示意的上涨通道"},
 {"i":204.25,"p":73.694,"t":"上轨以内。"}]},
 "mark":{"type":"text","font":"Noto Sans CJK SC","fontStyle":"italic","fontWeight":"bold","fontSize":11,"color":"#8b0a1e","align":"left","baseline":"middle"},
 "encoding":{"x":{"field":"i","type":"quantitative","scale":{"domain":[-0.75,449.25],"range":[0,900],"nice":false,"zero":false},"axis":null},
  "y":{"field":"p","type":"quantitative","scale":{"domain":[78.65,85.01],"range":[335,0],"nice":false,"zero":false},"axis":null},"text":{"field":"t"}}},
{"data":{"values":[
 {"i":204.25,"p":73.333,"t":"短线操作，倾向于依托图示蓝色虚线示意的上涨通道上下轨，进行高抛低吸的操作方式。"}]},
 "mark":{"type":"text","font":"Noto Sans CJK SC","fontStyle":"italic","fontWeight":"bold","fontSize":11,"color":"#ff1a1a","align":"left","baseline":"middle"},
 "encoding":{"x":{"field":"i","type":"quantitative","scale":{"domain":[-0.75,449.25],"range":[0,900],"nice":false,"zero":false},"axis":null},
  "y":{"field":"p","type":"quantitative","scale":{"domain":[78.65,85.01],"range":[335,0],"nice":false,"zero":false},"axis":null},"text":{"field":"t"}}}
]
}
